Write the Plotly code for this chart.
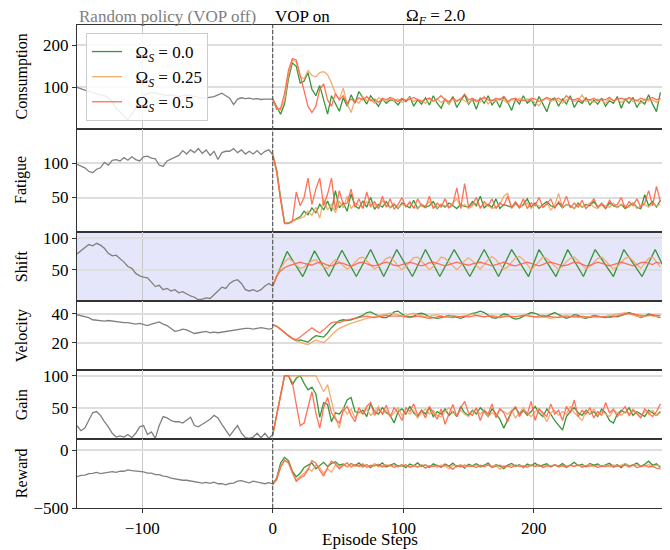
import plotly.graph_objects as go
from plotly.subplots import make_subplots

# ---------------- data ----------------
GRAY_X = list(range(-150, 1, 3))
STEPS = list(range(0, 300, 3))
LABELS = ["\u2002Ω<sub><i>S</i></sub> = 0.0", "\u2002Ω<sub><i>S</i></sub> = 0.25", "\u2002Ω<sub><i>S</i></sub> = 0.5"]
PANELS = ["Consumption", "Fatigue", "Shift", "Velocity", "Gain", "Reward"]

cons_gray = [100, 96, 93, 90, 88, 85, 82, 80, 75, 65, 50, 42, 31, 23, 36, 50, 68, 80, 85, 88, 86, 84, 82, 80, 82, 80,
             78, 80, 82, 80, 78, 76, 74, 75, 76, 78, 82, 86, 80, 74, 59, 72, 75, 73, 74, 72, 73, 71, 72, 72, 72]
cons_g = [72, 52, 36, 60, 120, 158, 150, 110, 115, 135, 95, 80, 104, 70, 36, 80, 60, 43, 75, 55, 82, 62, 90, 75, 60,
          80, 66, 55, 72, 62, 70, 68, 58, 72, 66, 78, 55, 70, 60, 75, 58, 80, 62, 50, 72, 60, 78, 52, 68, 82, 60, 72,
          48, 75, 62, 80, 58, 70, 52, 78, 65, 45, 72, 60, 80, 62, 70, 55, 78, 60, 42, 70, 75, 55, 72, 60, 80, 52, 68,
          62, 75, 58, 70, 60, 74, 55, 68, 62, 78, 50, 72, 62, 76, 52, 68, 60, 82, 60, 42, 88]
cons_o = [72, 50, 45, 70, 130, 165, 160, 125, 120, 140, 128, 125, 135, 137, 130, 110, 85, 72, 98, 60, 40, 70, 62, 78,
          68, 72, 62, 75, 70, 66, 74, 68, 72, 64, 70, 76, 66, 72, 68, 62, 74, 66, 72, 64, 70, 60, 72, 66, 74, 68, 62,
          72, 70, 65, 78, 60, 70, 66, 74, 70, 62, 72, 66, 74, 68, 72, 70, 64, 56, 70, 74, 66, 72, 68, 62, 70, 74, 66,
          70, 82, 66, 70, 64, 72, 68, 62, 74, 68, 72, 64, 70, 74, 66, 70, 62, 72, 68, 70, 64, 72]
cons_r = [72, 48, 50, 85, 140, 168, 165, 130, 90, 55, 40, 55, 95, 108, 70, 55, 85, 70, 80, 62, 72, 66, 75, 70, 78,
          68, 72, 64, 74, 70, 76, 72, 66, 74, 68, 72, 76, 70, 66, 72, 74, 68, 72, 80, 70, 66, 74, 68, 72, 84, 70, 74,
          66, 72, 76, 70, 68, 74, 70, 78, 66, 72, 74, 68, 70, 66, 74, 72, 66, 70, 76, 72, 70, 74, 68, 80, 72, 70, 74,
          66, 72, 70, 74, 68, 72, 70, 76, 68, 72, 74, 70, 76, 72, 68, 74, 70, 72, 76, 70, 74]

fat_gray = [98, 95, 93, 88, 86, 91, 93, 101, 97, 104, 105, 103, 108, 104, 109, 105, 103, 109, 110, 107, 106, 97, 95,
            103, 106, 109, 111, 118, 113, 119, 115, 121, 114, 119, 111, 117, 105, 115, 117, 117, 121, 115, 119, 113,
            117, 113, 118, 112, 117, 119, 112]
fat_g = [112, 90, 50, 14, 13, 16, 20, 22, 30, 25, 35, 28, 40, 32, 45, 30, 60, 35, 42, 30, 55, 38, 34, 45, 36, 50, 33,
         40, 36, 44, 35, 40, 34, 42, 38, 35, 46, 34, 40, 36, 38, 44, 34, 40, 36, 42, 38, 34, 40, 37, 36, 44, 38, 52,
         35, 40, 36, 48, 34, 40, 38, 36, 42, 35, 40, 48, 36, 42, 34, 40, 44, 38, 36, 42, 35, 40, 38, 34, 42, 36, 40,
         38, 44, 36, 40, 34, 42, 38, 36, 40, 34, 38, 42, 36, 34, 54, 38, 44, 36, 46]
fat_o = [112, 88, 48, 14, 13, 16, 18, 20, 22, 30, 24, 36, 20, 48, 32, 40, 28, 45, 35, 52, 34, 42, 38, 35, 44, 36, 40,
         34, 46, 38, 36, 42, 35, 40, 38, 42, 36, 34, 40, 38, 44, 36, 35, 40, 38, 36, 42, 48, 36, 40, 34, 38, 42, 36,
         40, 38, 34, 36, 40, 52, 56, 34, 40, 36, 38, 42, 34, 40, 38, 36, 42, 32, 38, 56, 36, 40, 38, 34, 40, 36, 38,
         42, 36, 34, 40, 38, 36, 42, 35, 40, 38, 36, 42, 34, 38, 40, 36, 42, 38, 40]
fat_r = [112, 86, 46, 12, 12, 15, 58, 38, 50, 78, 40, 62, 78, 38, 55, 78, 32, 60, 40, 42, 62, 36, 48, 34, 58, 38, 44,
         34, 52, 36, 48, 33, 40, 50, 36, 44, 34, 48, 38, 35, 52, 34, 42, 36, 48, 35, 40, 64, 34, 70, 36, 40, 50, 34,
         44, 38, 48, 34, 42, 38, 52, 35, 44, 36, 48, 34, 42, 38, 50, 36, 40, 48, 34, 44, 38, 52, 35, 42, 36, 46, 34,
         40, 48, 36, 42, 34, 46, 38, 40, 50, 34, 44, 38, 48, 36, 42, 60, 38, 66, 44]

shift_gray = [75, 80, 86, 90, 88, 92, 89, 84, 76, 72, 73, 68, 62, 55, 52, 44, 40, 38, 37, 30, 23, 25, 18, 20, 16, 18,
              13, 15, 11, 8, 6, 2, 3, 5, 4, 10, 16, 22, 20, 28, 32, 34, 28, 18, 16, 18, 15, 18, 24, 28, 24]
shift_g_x = [0, 11, 23, 32, 43, 53, 64, 75, 85, 95, 107, 117, 128, 139, 151, 162, 173, 183, 196, 204, 217, 226, 238,
             247, 261, 269, 283, 293, 299]
shift_g_y = [24, 79, 39, 80, 39, 81, 39, 82, 39, 82, 39, 82, 39, 82, 39, 82, 39, 82, 39, 82, 39, 82, 39, 82, 39, 82,
             39, 82, 56]
shift_o = [24, 40, 52, 62, 68, 64, 57, 52, 54, 60, 64, 66, 60, 54, 52, 60, 66, 62, 56, 51, 55, 62, 68, 70, 64, 58, 51,
           55, 62, 68, 70, 64, 56, 50, 55, 62, 69, 70, 64, 57, 50, 55, 62, 70, 68, 62, 55, 50, 56, 64, 69, 64, 56, 51,
           58, 66, 71, 66, 58, 51, 54, 62, 68, 71, 66, 58, 50, 56, 63, 70, 68, 62, 55, 50, 56, 63, 68, 70, 64, 57, 51,
           55, 62, 68, 70, 64, 57, 51, 55, 62, 68, 70, 64, 57, 52, 60, 68, 70, 62, 54]
shift_r = [24, 40, 48, 53, 56, 58, 60, 62, 60, 58, 57, 60, 62, 60, 57, 56, 58, 61, 60, 57, 55, 58, 61, 62, 59, 57, 56,
           58, 61, 62, 60, 57, 56, 58, 60, 62, 60, 58, 56, 58, 61, 62, 60, 57, 56, 58, 60, 62, 60, 58, 57, 59, 61, 62,
           60, 58, 56, 58, 60, 62, 60, 57, 56, 58, 60, 62, 60, 58, 56, 58, 61, 62, 60, 58, 56, 57, 60, 62, 61, 58, 56,
           57, 60, 62, 60, 58, 56, 58, 60, 62, 60, 58, 56, 58, 61, 62, 60, 58, 62, 60]

vel_gray = [39.5, 39, 38.5, 37.5, 36, 35.5, 35.5, 35, 35.5, 35, 35, 34.5, 34, 34, 33.5, 33, 33.5, 33, 32, 33, 34,
            34.5, 33, 32, 30, 28, 28.5, 29.5, 29, 27.5, 26.5, 27, 27.5, 28, 27, 27.5, 27, 27.5, 28, 28.5, 28.5, 29,
            29.5, 30, 30, 29.5, 30, 30.5, 30, 29.5, 30]
vel_g = [32.5, 31.5, 29.5, 27, 25, 23, 21.5, 22, 21, 20.5, 23, 25, 24.5, 24, 27, 30.5, 33, 35.5, 36, 35.5, 36, 37,
         37.5, 39, 41, 41.5, 40, 38.5, 37.5, 37.5, 39, 41.5, 42, 40, 38.5, 38, 38.5, 40, 40.5, 39.5, 38, 37.5, 37,
         37.5, 38.5, 39, 38.5, 37.5, 37, 38, 39.5, 40.5, 41, 42, 41, 39, 37.5, 37, 38.5, 40, 39.5, 37.5, 36.5, 37,
         38.5, 40, 41, 40.5, 39, 38, 38.5, 40, 41, 39.5, 38, 37, 38, 39.5, 39, 37.5, 37, 38, 39, 38.5, 38, 37.5, 38,
         38.5, 38, 39, 40.5, 41, 40, 38.5, 37.5, 38.5, 40, 39, 38, 37.5]
vel_o = [32.5, 31.5, 29.5, 27, 25, 23, 21.5, 20.5, 19.5, 18.8, 20.5, 22, 21, 20.3, 22.5, 25.5, 28, 30, 31.5, 32.5,
         33.5, 34.5, 35.5, 36.5, 37, 37.5, 38, 38.5, 39.5, 40, 40.5, 40, 39, 38.5, 39, 40, 40.5, 39.5, 38.5, 38,
         38.5, 39, 39.5, 38.5, 38, 38.5, 39, 38.5, 38, 38.5, 39.5, 40, 39, 38.5, 38, 38.5, 39, 38.5, 38, 38.5, 39,
         38.5, 38, 38.5, 39, 39.5, 38.5, 38, 37.5, 38, 37.5, 37, 37.5, 38, 38.5, 39, 38.5, 38, 37.5, 37.5, 38, 38.5,
         38.5, 38, 38, 38.5, 39, 39.5, 40, 40.5, 41, 40, 39, 38.5, 38, 38.5, 39, 38.5, 38, 38]
vel_r = [32.5, 31.5, 29.5, 27, 25, 23, 22.3, 24, 26, 28.5, 30.5, 28.5, 27, 29, 31.5, 34, 34.5, 34, 35, 36, 36.5, 37,
         37.5, 38, 38.5, 38, 37.5, 38, 38.5, 39, 38.5, 38.5, 39, 38.5, 38, 37.5, 38, 38.5, 38, 37.5, 37, 37.5, 38,
         38.5, 38, 37.5, 37.5, 38, 38.5, 38.5, 38, 38.5, 39, 38.5, 38, 38.5, 38, 37.5, 37.5, 38, 38.5, 38, 38, 38.5,
         39, 38.5, 38, 38, 38.5, 39, 38.5, 38, 37.5, 37.5, 38, 38, 37.5, 37.5, 38, 38.5, 38, 37.5, 38, 38, 38.5, 38,
         37.5, 38, 38.5, 39, 40, 40.5, 40, 39.5, 39, 38.5, 39, 39.5, 39, 39]

gain_gray = [22, 14, 18, 30, 42, 44, 38, 28, 20, 10, 4, 6, 4, 8, 3, 10, 20, 22, 8, 12, 2, 22, 36, 34, 30, 28, 28, 26,
             30, 35, 22, 20, 24, 28, 32, 38, 34, 24, 14, 6, 14, 22, 10, 3, 2, 4, 10, 3, 10, 2, 8]
gain_g = [8, 40, 72, 100, 100, 86, 96, 100, 88, 78, 82, 72, 35, 58, 55, 28, 42, 40, 48, 62, 66, 44, 42, 46, 36, 56,
          44, 40, 50, 42, 38, 26, 44, 48, 40, 52, 42, 36, 46, 40, 50, 36, 44, 40, 48, 38, 44, 36, 52, 42, 38, 46, 40,
          50, 44, 36, 48, 40, 32, 18, 30, 44, 50, 40, 46, 38, 44, 52, 42, 36, 48, 40, 30, 22, 15, 36, 44, 50, 42, 38,
          46, 40, 44, 36, 48, 42, 30, 26, 40, 46, 42, 50, 38, 44, 40, 36, 46, 42, 38, 44]
gain_o = [8, 40, 72, 100, 100, 100, 100, 100, 100, 100, 100, 100, 88, 75, 86, 60, 35, 18, 50, 40, 48, 34, 44, 40, 48,
          38, 44, 52, 40, 46, 36, 42, 50, 38, 44, 40, 46, 34, 42, 48, 40, 46, 38, 36, 44, 50, 42, 38, 46, 40, 36, 44,
          48, 40, 46, 36, 42, 38, 48, 44, 40, 46, 34, 42, 50, 40, 36, 44, 48, 40, 28, 42, 46, 38, 44, 40, 52, 42, 36,
          30, 44, 40, 48, 38, 44, 40, 36, 46, 42, 38, 44, 40, 48, 42, 36, 44, 40, 46, 38, 42]
gain_r = [8, 40, 72, 100, 100, 90, 55, 22, 26, 52, 75, 42, 18, 50, 66, 42, 32, 26, 45, 52, 38, 28, 50, 40, 52, 58,
          38, 48, 40, 54, 36, 50, 42, 30, 50, 44, 56, 38, 46, 34, 52, 42, 32, 48, 24, 40, 55, 36, 50, 60, 42, 38, 50,
          30, 46, 40, 56, 34, 48, 42, 28, 44, 52, 36, 46, 40, 60, 30, 48, 42, 36, 56, 40, 46, 30, 52, 42, 62, 36, 46,
          40, 50, 34, 44, 38, 58, 42, 48, 36, 44, 52, 38, 46, 40, 34, 48, 42, 36, 44, 56]

rew_gray = [-228, -218, -215, -202, -200, -192, -202, -195, -194, -185, -192, -181, -182, -170, -177, -180, -187, -188,
            -198, -198, -212, -212, -224, -228, -242, -248, -258, -260, -260, -266, -274, -274, -284, -278, -287, -276,
            -290, -290, -300, -288, -284, -268, -264, -273, -282, -268, -278, -282, -290, -280, -292]
rew_g = [-296, -240, -110, -62, -90, -180, -230, -200, -150, -130, -110, -160, -130, -105, -140, -115, -100, -130, -120,
         -145, -115, -135, -110, -140, -125, -150, -120, -135, -110, -145, -130, -115, -140, -125, -150, -120, -135, -110,
         -140, -128, -150, -118, -135, -145, -120, -138, -112, -142, -128, -155, -122, -135, -118, -140, -130, -112, -145,
         -125, -138, -160, -128, -115, -140, -126, -150, -120, -135, -112, -140, -128, -118, -145, -125, -138, -115, -142,
         -128, -105, -135, -122, -145, -115, -130, -120, -142, -126, -112, -140, -125, -150, -118, -135, -128, -110, -140,
         -122, -95, -130, -118, -150]
rew_o = [-296, -250, -140, -85, -110, -200, -255, -230, -200, -160, -180, -130, -150, -200, -160, -190, -130, -150, -125,
         -145, -120, -140, -130, -150, -128, -140, -120, -145, -135, -125, -140, -130, -148, -125, -135, -142, -128, -150,
         -132, -125, -140, -135, -148, -128, -140, -160, -130, -138, -125, -145, -132, -140, -128, -150, -135, -125, -140,
         -130, -165, -135, -142, -128, -138, -130, -145, -135, -128, -140, -132, -148, -130, -138, -125, -140, -132, -145,
         -130, -138, -128, -140, -135, -125, -142, -130, -138, -132, -145, -128, -138, -130, -115, -140, -132, -128, -142,
         -135, -125, -140, -130, -138]
rew_r = [-296, -255, -150, -88, -105, -190, -270, -240, -220, -170, -90, -110, -175, -224, -150, -95, -120, -160, -130,
         -110, -145, -125, -140, -118, -150, -130, -138, -122, -145, -135, -128, -150, -132, -140, -125, -148, -135, -142,
         -128, -155, -135, -140, -130, -148, -125, -140, -165, -132, -145, -128, -140, -135, -150, -130, -142, -125, -150,
         -138, -130, -145, -135, -150, -128, -140, -135, -148, -130, -142, -125, -150, -135, -140, -128, -145, -135, -150,
         -130, -142, -125, -148, -135, -140, -130, -150, -135, -142, -128, -148, -135, -140, -130, -145, -128, -150, -138,
         -132, -145, -140, -155, -162]

Y_RANGES = [[2, 248], [0, 150], [0, 110], [1.2, 49], [1, 109], [-500, 97]]
Y_TICKS = [[100, 200], [50, 100], [50, 100], [20, 40], [50, 100], [-500, 0]]
X_TICKS = [-100, 0, 100, 200]

# ---------------- figure ----------------
FONT = "Liberation Serif"
GRAY = "#808080"
COLORS = ["rgba(34,139,34,0.9)", "rgba(244,164,96,0.9)", "rgba(255,99,71,0.9)"]

fig = make_subplots(rows=6, cols=1, shared_xaxes=True, vertical_spacing=0,
                    row_heights=[1.5, 1.5, 1, 1, 1, 1])

grays = [cons_gray, fat_gray, shift_gray, vel_gray, gain_gray, rew_gray]
colored = [
    [(STEPS, cons_g), (STEPS, cons_o), (STEPS, cons_r)],
    [(STEPS, fat_g), (STEPS, fat_o), (STEPS, fat_r)],
    [(shift_g_x, shift_g_y), (STEPS, shift_o), (STEPS, shift_r)],
    [(STEPS, vel_g), (STEPS, vel_o), (STEPS, vel_r)],
    [(STEPS, gain_g), (STEPS, gain_o), (STEPS, gain_r)],
    [(STEPS, rew_g), (STEPS, rew_o), (STEPS, rew_r)],
]

for i in range(6):
    row = i + 1
    fig.add_trace(go.Scatter(x=GRAY_X, y=grays[i], mode="lines", line=dict(color=GRAY, width=1.3),
                             showlegend=False, hoverinfo="skip"), row=row, col=1)
    for k, (xs, ys) in enumerate(colored[i]):
        fig.add_trace(go.Scatter(x=xs, y=ys, mode="lines", name=LABELS[k],
                                 line=dict(color=COLORS[k], width=1.3),
                                 showlegend=(i == 0), legendgroup=str(k)), row=row, col=1)
    fig.update_yaxes(range=Y_RANGES[i], tickvals=Y_TICKS[i], row=row, col=1)

fig.update_yaxes(showline=True, mirror=True, linecolor="#333", linewidth=1.2,
                 showgrid=True, gridcolor="#dedede", gridwidth=1.5, zeroline=False,
                 ticks="outside", ticklen=4, tickcolor="#333",
                 tickfont=dict(family=FONT, size=17, color="black"))
fig.update_xaxes(range=[-150, 299], tickvals=X_TICKS, showline=True, mirror=True, linecolor="#333",
                 linewidth=1.2, showgrid=True, gridcolor="#c8c8c8", gridwidth=1, zeroline=False,
                 tickfont=dict(family=FONT, size=17, color="black"))
fig.update_xaxes(ticks="outside", ticklen=4, tickcolor="#333", row=6, col=1)

# lavender background of the Shift panel
fig.add_shape(type="rect", xref="x3 domain", yref="y3 domain", x0=0, x1=1, y0=0, y1=1,
              fillcolor="#e6e6fa", line=dict(width=0), layer="below")
# VOP switch-on line
fig.add_shape(type="line", xref="x", yref="paper", x0=0, x1=0, y0=0, y1=1,
              line=dict(color="#444", width=1, dash="4px,2px"), layer="above")

# panel titles
doms = [fig.layout["yaxis%s" % ("" if i == 0 else i + 1)].domain for i in range(6)]
PW = 586.0
PH = 483.0
for i, name in enumerate(PANELS):
    fig.add_annotation(text=name, xref="paper", yref="paper", x=(21.7 - 77) / PW,
                       y=(doms[i][0] + doms[i][1]) / 2,
                       textangle=-90, showarrow=False, xanchor="center", yanchor="middle",
                       font=dict(family=FONT, size=16, color="black"))

fig.add_annotation(text="Episode Steps", xref="paper", yref="paper", x=(370 - 77) / PW, y=(508 - 539) / PH,
                   showarrow=False, xanchor="center", yanchor="middle",
                   font=dict(family=FONT, size=17, color="black"))
TOP_Y = (508 - 17) / PH
fig.add_annotation(text="Random policy (VOP off)", xref="paper", yref="paper", x=0, y=TOP_Y, showarrow=False,
                   xanchor="left", yanchor="middle", font=dict(family=FONT, size=17, color="#808080"))
fig.add_annotation(text="VOP on", xref="paper", yref="paper", x=(273 - 77) / PW, y=TOP_Y, showarrow=False,
                   xanchor="left", yanchor="middle", font=dict(family=FONT, size=17, color="black"))
fig.add_annotation(text="Ω<sub><i>F</i></sub> = 2.0", xref="paper", yref="paper", x=(404 - 77) / PW, y=TOP_Y,
                   showarrow=False, xanchor="left", yanchor="middle",
                   font=dict(family=FONT, size=17, color="black"))

# the page places the figure 8 px from the top-left corner; margins compensate for it
fig.update_layout(
    width=670, height=550,
    margin=dict(l=69, r=15, t=17, b=50),
    plot_bgcolor="white", paper_bgcolor="white",
    font=dict(family=FONT, size=16, color="black"),
    legend=dict(x=(86 - 77) / PW, y=(508 - 33) / PH, xanchor="left", yanchor="top",
                bgcolor="rgba(255,255,255,0.85)", bordercolor="#cccccc", borderwidth=1,
                font=dict(family=FONT, size=17, color="black"), itemwidth=30,
                tracegroupgap=0),
)

fig.write_html("out.html")
